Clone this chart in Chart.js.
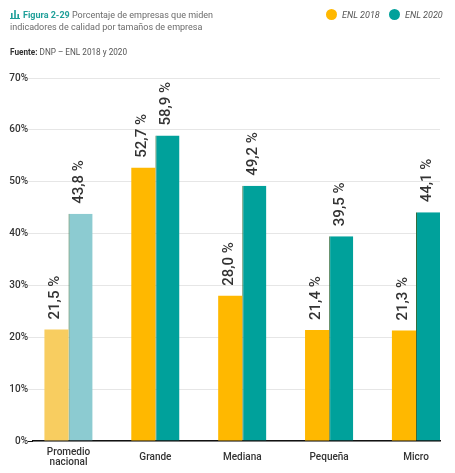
<!DOCTYPE html>
<html>
<head>
<meta charset="utf-8">
<script src="https://cdn.jsdelivr.net/npm/chart.js@4"></script>
<style>
  html, body { margin:0; padding:0; background:#fff; }
  body { width:455px; height:473px; position:relative; overflow:hidden; font-family: Roboto, "Noto Sans", sans-serif; }
  #wrap { position:absolute; left:0; top:0; width:455px; height:473px; }
  .title { position:absolute; left:10px; top:9px; font-size:9px; line-height:12px; color:#6b6b6b; width:240px; }
  .title b { color:#1f9f99; font-weight:700; }
  .icon { display:inline-block; width:10px; height:9px; vertical-align:-1px; margin-right:3px; }
  .src { position:absolute; left:10px; top:47px; font-size:8.2px; color:#555; }
  .src b { color:#333; }
  .legend { position:absolute; top:9px; font-size:9px; font-style:italic; color:#555; display:flex; align-items:center; }
  .dot { display:inline-block; width:11px; height:11px; border-radius:50%; margin-right:5px; }
</style>
</head>
<body>
<div id="wrap"><canvas id="c" width="455" height="473"></canvas></div>
<div class="title"><svg class="icon" viewBox="0 0 10 9"><rect x="0" y="8" width="10" height="1" fill="#1f9f99"/><rect x="1" y="3" width="1.6" height="5" fill="#1f9f99"/><rect x="4.2" y="0" width="1.6" height="8" fill="#1f9f99"/><rect x="7.4" y="4" width="1.6" height="4" fill="#1f9f99"/></svg><b>Figura 2-29</b> Porcentaje de empresas que miden<br>indicadores de calidad por tamaños de empresa</div>
<div class="src"><b>Fuente:</b> DNP – ENL 2018 y 2020</div>
<div class="legend" style="left:326px;"><span class="dot" style="background:#FFB800"></span>ENL 2018</div>
<div class="legend" style="left:389px;"><span class="dot" style="background:#00A19B"></span>ENL 2020</div>
<script>
const categories = [["Promedio","nacional"], "Grande", "Mediana", "Pequeña", "Micro"];
const seriesNames = ["ENL 2018", "ENL 2020"];
const values2018 = [21.5, 52.7, 28.0, 21.4, 21.3];
const values2020 = [43.8, 58.9, 49.2, 39.5, 44.1];
const yTicks = [0, 10, 20, 30, 40, 50, 60, 70];

const col2018 = ["#F8CD60", "#FFB800", "#FFB800", "#FFB800", "#FFB800"];
const col2020 = ["#8CCBD1", "#00A19B", "#00A19B", "#00A19B", "#00A19B"];

const fmt = v => v.toFixed(1).replace('.', ',') + ' %';

const labelPlugin = {
  id: 'barLabels',
  afterDatasetsDraw(chart) {
    const ctx = chart.ctx;
    chart.data.datasets.forEach((ds, di) => {
      const meta = chart.getDatasetMeta(di);
      meta.data.forEach((bar, i) => {
        const v = ds.data[i].y;
        ctx.save();
        ctx.translate(bar.x - 1, bar.y - 10);
        ctx.rotate(-Math.PI / 2);
        ctx.font = '500 15px Roboto, "Noto Sans", sans-serif';
        ctx.fillStyle = '#333';
        ctx.textAlign = 'left';
        ctx.textBaseline = 'middle';
        ctx.fillText(fmt(v), 0, 0);
        ctx.restore();
      });
    });
  }
};

new Chart(document.getElementById('c'), {
  type: 'bar',
  data: {
    datasets: [
      { label: seriesNames[0], data: values2018.map((v, i) => ({x: i, y: v})), backgroundColor: col2018, borderWidth: 0 },
      { label: seriesNames[1], data: values2020.map((v, i) => ({x: i, y: v})), backgroundColor: col2020,
        borderColor: '#2f6b3a', borderWidth: {left: 1, right: 0, top: 0, bottom: 0}, borderSkipped: false }
    ]
  },
  options: {
    responsive: false,
    animation: false,
    layout: { padding: { top: 78, right: 15, left: 0, bottom: 0 } },
    datasets: { bar: { categoryPercentage: 0.555, barPercentage: 1, grouped: true } },
    plugins: { legend: { display: false }, tooltip: { enabled: false }, title: { display: false } },
    scales: {
      x: {
        type: 'linear',
        min: -0.409,
        max: 4.276,
        offset: false,
        afterBuildTicks: s => { s.ticks = categories.map((c, i) => ({ value: i })); },
        afterFit: s => { s.height = 32; },
        grid: { display: false, drawTicks: false },
        border: { display: true, color: '#111', width: 1.5 },
        ticks: {
          autoSkip: false,
          maxRotation: 0,
          padding: 11,
          crossAlign: 'center',
          color: '#333',
          font: { family: 'Roboto, "Noto Sans", sans-serif', size: 10, weight: 500, lineHeight: 1.05 },
          callback: v => categories[v]
        }
      },
      y: {
        min: 0, max: 70,
        afterBuildTicks: s => { s.ticks = yTicks.map(v => ({ value: v })); },
        afterFit: s => { s.width = 33; },
        border: { display: false },
        grid: {
          color: '#e6e6e6', lineWidth: 1, tickLength: 5,
          tickColor: c => (c.tick && c.tick.value === 0) ? '#111' : '#e6e6e6'
        },
        ticks: {
          padding: 0,
          color: '#333',
          font: { family: 'Roboto, "Noto Sans", sans-serif', size: 10, weight: 500 },
          callback: v => v + '%'
        }
      }
    }
  },
  plugins: [labelPlugin]
});
</script>
</body>
</html>
